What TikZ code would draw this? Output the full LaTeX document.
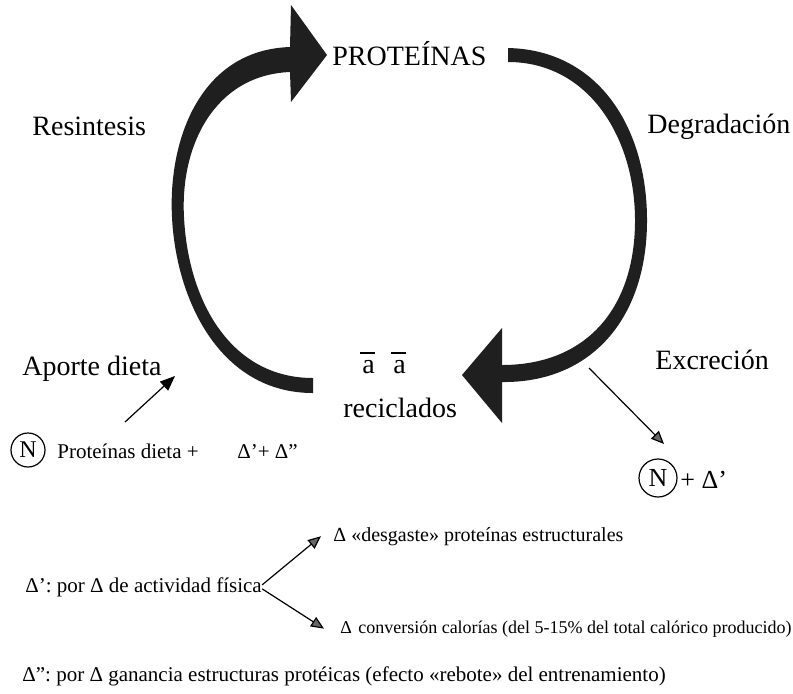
\documentclass[tikz,border=0pt]{standalone}
\usepackage{fontspec}
\setmainfont{Liberation Serif}
\usetikzlibrary{arrows.meta, positioning, calc}

\begin{document}
\begin{tikzpicture}[
        x=0.5pt, y=-0.5pt,
        big/.style={inner sep=0pt, anchor=base west, font=\fontsize{14}{16}\selectfont},
        small/.style={inner sep=0pt, anchor=base west, font=\fontsize{10.5}{12}\selectfont},
        tiny/.style={inner sep=0pt, anchor=base west, font=\fontsize{9}{11}\selectfont},
        circ/.style={circle, draw, line width=0.6pt, inner sep=0pt},
        bigarrow/.style={fill=black!88, draw=none},
        thin/.style={line width=0.6pt, -{Triangle[length=7.5pt, width=6pt]}},
        thingray/.style={line width=0.6pt, -{Triangle[length=6.5pt, width=5.5pt, fill=black!60]}}
    ]
        \useasboundingbox (0,0) rectangle (793,693);

        % 1. Cycle labels
        \node (prot) [big] at (332,65) {PROTEÍNAS};
        \node (resin) [big] at (32,135) {Resintesis};
        \node (degr) [big] at (647,133) {Degradación};
        \node (aporte) [big] at (22,375) {Aporte dieta};
        \node (excr) [big] at (655,369) {Excreción};
        \node (a1) [big] at (362,373) {a};
        \node (a2) [big] at (393,373) {a};
        \node (recic) [big] at (343,417) {reciclados};
        \draw [line width=0.7pt] (a1.base west) ++(-2,-20) -- ++(15,0);
        \draw [line width=0.7pt] (a2.base west) ++(-2,-20) -- ++(15,0);

        % 2. Big cycle arrows
        \fill [bigarrow] (313,393) .. controls (220,393) and (176,300) .. (172,217)
            .. controls (168,140) and (200,50) .. (290,47)
            -- (291,5) -- (327,55) -- (291,102) -- (290,72)
            .. controls (215,75) and (180,145) .. (184,217)
            .. controls (188,300) and (230,378) .. (313,378) -- cycle;
        \fill [bigarrow] (508,48) .. controls (600,50) and (648,130) .. (647,223)
            .. controls (646,320) and (590,383) .. (502,382)
            -- (502,423) -- (462,375) -- (502,328) -- (502,365)
            .. controls (585,365) and (634,310) .. (635,223)
            .. controls (636,140) and (590,62) .. (508,62) -- cycle;

        % 3. Input / output
        \node (nleft) [circ, minimum size=17pt, font=\fontsize{12}{13}\selectfont] at (28,450) {N};
        \node (dieta) [small] at (57,458) {Proteínas dieta +};
        \node (deltas) [small] at (237,458) {Δ’+ Δ”};
        \node (nright) [circ, minimum size=19pt, font=\fontsize{13}{14}\selectfont] at (658,478) {N};
        \node (plus) [inner sep=0pt, anchor=base west, font=\fontsize{13}{14}\selectfont] at (680,488) {+ Δ’};

        \coordinate (apT) at (125,422);
        \coordinate (apH) at (175,376);
        \coordinate (exT) at (589,368);
        \coordinate (exH) at (664,444);

        % 4. Notes
        \node (fis) [small] at (25,592) {Δ’: por Δ de actividad física};
        \node (desg) [small, font=\fontsize{10}{12}\selectfont] at (333,541) {Δ «desgaste» proteínas estructurales};
        \node (conv) [tiny] at (340,633) {Δ\hspace{0.35em}conversión calorías (del 5-15\% del total calórico producido)};
        \node (gan) [small] at (22,681) {Δ”: por Δ ganancia estructuras protéicas (efecto «rebote» del entrenamiento)};

        % Connections
        \draw [thin] (apT) -- (apH);
        \draw [thingray] (exT) -- (exH);
        \draw [thingray] ([yshift=1pt]fis.east) -- ([xshift=-6pt]desg.west);
        \draw [thingray] ([yshift=-1pt]fis.east) -- ([xshift=-8pt]conv.west);

    \end{tikzpicture}
\end{document}
